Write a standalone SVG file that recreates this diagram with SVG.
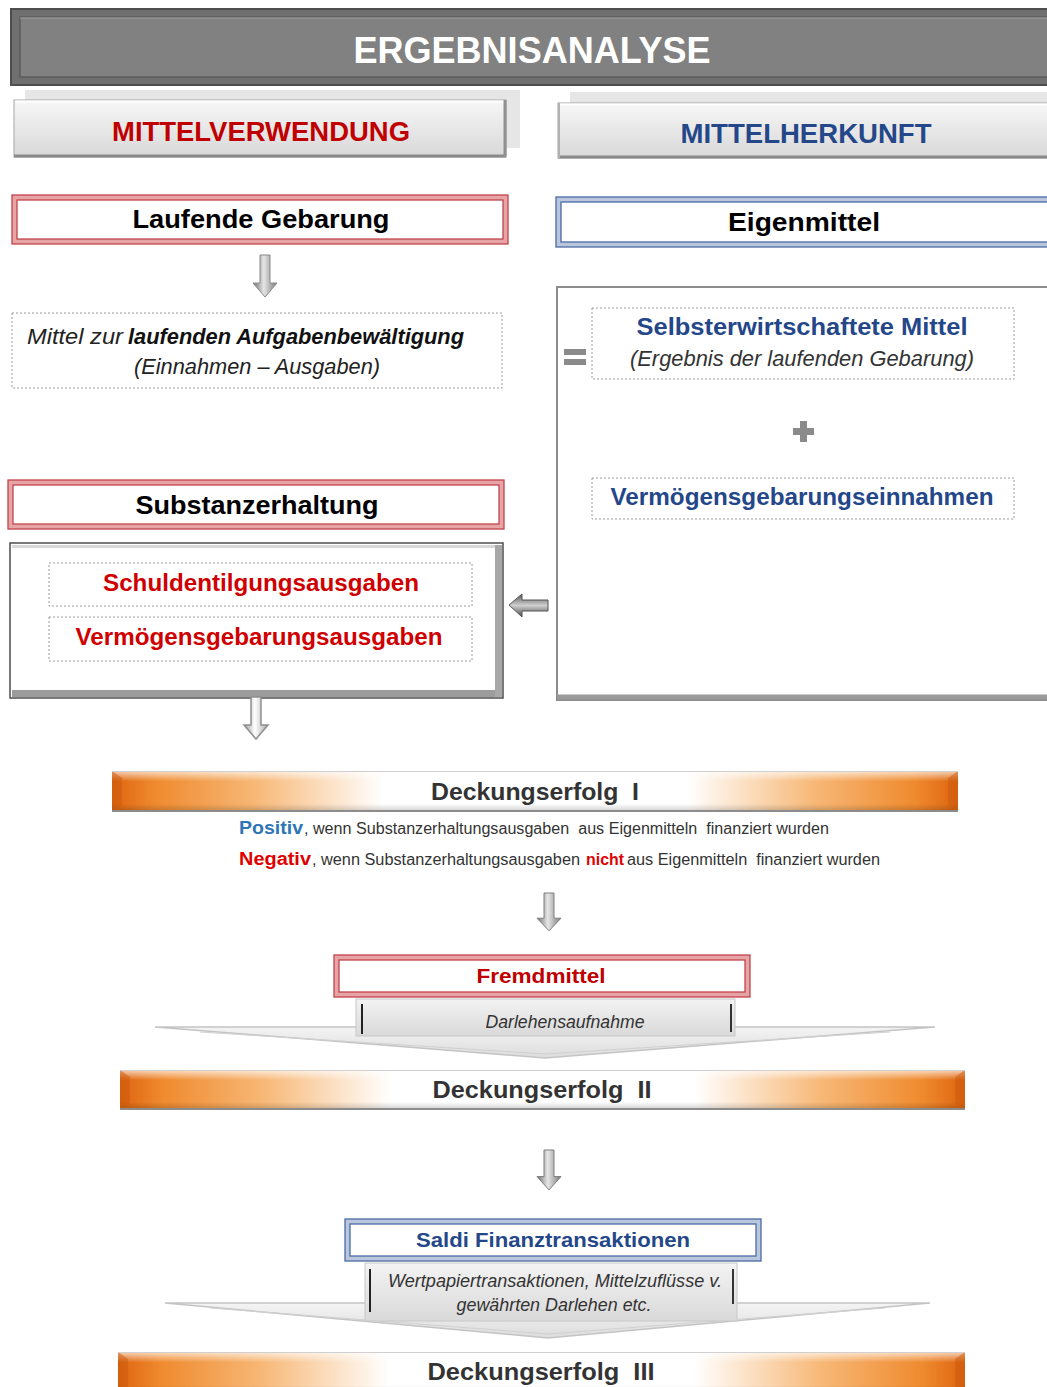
<svg xmlns="http://www.w3.org/2000/svg" xmlns:xlink="http://www.w3.org/1999/xlink" width="1047" height="1387" viewBox="0 0 1047 1387">
<style>
.b{font-family:"Liberation Sans",Arial,sans-serif;font-weight:bold}
.i{font-family:"Liberation Sans",Arial,sans-serif;font-style:italic}
.c{font-family:"Liberation Sans",Arial,sans-serif}
.pre{white-space:pre}
.dash{fill:#fff;stroke:#9a9a9a;stroke-width:1;stroke-dasharray:2 2}
.red{fill:#c00000}
.blue{fill:#24478a}
.dr1{fill:#fff;stroke:#e6a4a6;stroke-width:5}
.dr2{fill:none;stroke:#c0444a;stroke-width:1.3}
.db1{fill:#fff;stroke:#b9c6dc;stroke-width:5}
.db2{fill:none;stroke:#4a6aa5;stroke-width:1.3}
</style>
<defs>
<linearGradient id="hg" x1="0" y1="0" x2="0" y2="1"><stop offset="0" stop-color="#f7f7f7"/><stop offset="1" stop-color="#d8d8d8"/></linearGradient>
<linearGradient id="og" x1="0" y1="0" x2="1" y2="0">
<stop offset="0" stop-color="#de6410"/><stop offset="0.05" stop-color="#ef8a2e"/><stop offset="0.17" stop-color="#f7b877"/><stop offset="0.32" stop-color="#ffffff"/><stop offset="0.68" stop-color="#ffffff"/><stop offset="0.83" stop-color="#f7b877"/><stop offset="0.95" stop-color="#ef8a2e"/><stop offset="1" stop-color="#de6410"/></linearGradient>
<linearGradient id="ov" x1="0" y1="0" x2="0" y2="1"><stop offset="0" stop-color="#fff" stop-opacity="0.7"/><stop offset="0.25" stop-color="#fff" stop-opacity="0"/><stop offset="0.8" stop-color="#000" stop-opacity="0"/><stop offset="1" stop-color="#000" stop-opacity="0.2"/></linearGradient>
<linearGradient id="ag" x1="0" y1="0" x2="1" y2="0"><stop offset="0" stop-color="#6e6e6e"/><stop offset="0.45" stop-color="#e6e6e6"/><stop offset="1" stop-color="#7a7a7a"/></linearGradient>
<linearGradient id="agv" x1="0" y1="0" x2="0" y2="1"><stop offset="0" stop-color="#555"/><stop offset="0.5" stop-color="#cfcfcf"/><stop offset="1" stop-color="#4a4a4a"/></linearGradient>
<linearGradient id="al" x1="0" y1="0" x2="1" y2="0"><stop offset="0" stop-color="#9a9a9a"/><stop offset="0.45" stop-color="#ffffff"/><stop offset="1" stop-color="#a8a8a8"/></linearGradient>
<linearGradient id="tg" x1="0" y1="0" x2="0" y2="1"><stop offset="0" stop-color="#f3f3f3"/><stop offset="1" stop-color="#d9d9d9"/></linearGradient>
<linearGradient id="cg" x1="0" y1="0" x2="0" y2="1"><stop offset="0" stop-color="#f4f4f4"/><stop offset="1" stop-color="#dcdcdc"/></linearGradient>
<path id="dn" d="M-5,0 H5 V28 H12 L0,42 L-12,28 H-5 Z"/>
</defs>

<g id="title">
<rect x="11" y="9" width="1045" height="76" fill="#6f6f6f" stroke="#4d4d4d" stroke-width="2"/>
<rect x="20" y="17" width="1035" height="60" fill="#818181" stroke="#5c5c5c" stroke-width="1.5"/>
<line x1="20" y1="18" x2="1047" y2="18" stroke="#a0a0a0" stroke-width="1"/>
<text class="b" x="532" y="63" font-size="37" fill="#fff" text-anchor="middle" textLength="357" lengthAdjust="spacingAndGlyphs">ERGEBNISANALYSE</text>
</g>

<g id="mittelverwendung">
<rect x="25" y="90" width="495" height="58" fill="#e6e6e6"/>
<rect x="14" y="100" width="492" height="57" fill="url(#hg)" stroke="#a6a6a6" stroke-width="1"/>
<line x1="15" y1="101.5" x2="505" y2="101.5" stroke="#fff" stroke-width="2"/>
<line x1="14" y1="156" x2="506" y2="156" stroke="#8a8a8a" stroke-width="3"/>
<line x1="505" y1="100" x2="505" y2="157" stroke="#909090" stroke-width="3"/>
<text class="b red" x="261" y="141" font-size="27" text-anchor="middle" textLength="298" lengthAdjust="spacingAndGlyphs">MITTELVERWENDUNG</text>
</g>

<g id="mittelherkunft">
<rect x="570" y="92" width="490" height="56" fill="#e6e6e6"/>
<rect x="558" y="103" width="495" height="55" fill="url(#hg)" stroke="#a6a6a6" stroke-width="1"/>
<line x1="559" y1="104.5" x2="1047" y2="104.5" stroke="#fff" stroke-width="2"/>
<line x1="558" y1="157" x2="1047" y2="157" stroke="#8a8a8a" stroke-width="3"/>
<line x1="559" y1="103" x2="559" y2="158" stroke="#b0b0b0" stroke-width="2"/>
<text class="b blue" x="806" y="143" font-size="27" text-anchor="middle" textLength="251" lengthAdjust="spacingAndGlyphs">MITTELHERKUNFT</text>
</g>

<g id="laufende-gebarung">
<rect class="dr1" x="14.5" y="197.5" width="491" height="44"/>
<rect class="dr2" x="12" y="195" width="496" height="49"/>
<rect class="dr2" x="17" y="200" width="486" height="39"/>
<text class="b" x="261" y="228" font-size="25" fill="#000" text-anchor="middle" textLength="257" lengthAdjust="spacingAndGlyphs">Laufende Gebarung</text>
</g>

<g id="eigenmittel">
<rect class="db1" x="558.5" y="199.5" width="495" height="45"/>
<rect class="db2" x="556" y="197" width="500" height="50"/>
<rect class="db2" x="561" y="202" width="490" height="40"/>
<text class="b" x="804" y="231" font-size="26" fill="#000" text-anchor="middle" textLength="152" lengthAdjust="spacingAndGlyphs">Eigenmittel</text>
</g>

<g id="mittel-laufende">
<rect class="dash" x="12" y="313" width="490" height="75"/>
<text class="i" x="27" y="344" font-size="22" fill="#222" textLength="96" lengthAdjust="spacingAndGlyphs">Mittel zur</text>
<text class="i" x="128" y="344" font-size="22" font-weight="bold" fill="#111" textLength="336" lengthAdjust="spacingAndGlyphs">laufenden Aufgabenbewältigung</text>
<text class="i" x="134" y="374" font-size="22" fill="#222" textLength="246" lengthAdjust="spacingAndGlyphs">(Einnahmen – Ausgaben)</text>
</g>

<g id="eigenmittel-detail">
<rect x="557" y="287" width="500" height="413" fill="#fff" stroke="#8c8c8c" stroke-width="2"/>
<line x1="557" y1="697" x2="1047" y2="697" stroke="#9a9a9a" stroke-width="5"/>
<g id="gleich">
<rect x="564" y="349" width="22" height="6" fill="#8a8a8a"/>
<rect x="564" y="359" width="22" height="6" fill="#8a8a8a"/>
</g>
<g id="selbsterwirtschaftete-mittel">
<rect class="dash" x="592" y="308" width="422" height="71"/>
<text class="b blue" x="802" y="335" font-size="23" text-anchor="middle" textLength="331" lengthAdjust="spacingAndGlyphs">Selbsterwirtschaftete Mittel</text>
<text class="i" x="802" y="366" font-size="22" fill="#333" text-anchor="middle" textLength="344" lengthAdjust="spacingAndGlyphs">(Ergebnis der laufenden Gebarung)</text>
</g>
<g id="plus">
<rect x="793" y="428" width="21" height="7" fill="#8a8a8a"/>
<rect x="800" y="421" width="7" height="21" fill="#8a8a8a"/>
</g>
<g id="vermoegensgebarungseinnahmen">
<rect class="dash" x="592" y="478" width="422" height="41"/>
<text class="b blue" x="802" y="505" font-size="23" text-anchor="middle" textLength="383" lengthAdjust="spacingAndGlyphs">Vermögensgebarungseinnahmen</text>
</g>
</g>

<g id="substanzerhaltung">
<rect class="dr1" x="10.5" y="482.5" width="491" height="44"/>
<rect class="dr2" x="8" y="480" width="496" height="49"/>
<rect class="dr2" x="13" y="485" width="486" height="39"/>
<text class="b" x="257" y="514" font-size="25" fill="#000" text-anchor="middle" textLength="243" lengthAdjust="spacingAndGlyphs">Substanzerhaltung</text>
</g>

<g id="substanz-detail">
<rect x="10" y="543" width="493" height="155" fill="#fff" stroke="#4d4d4d" stroke-width="1.5"/>
<rect x="12" y="545" width="489" height="3" fill="#d8d8d8"/>
<rect x="12" y="690" width="490" height="7" fill="#9c9c9c"/>
<rect x="495" y="545" width="7" height="152" fill="#a8a8a8"/>
<g id="schuldentilgungsausgaben">
<rect class="dash" x="49" y="563" width="423" height="43"/>
<text class="b" x="261" y="591" font-size="23" text-anchor="middle" textLength="316" lengthAdjust="spacingAndGlyphs" fill="#d00000">Schuldentilgungsausgaben</text>
</g>
<g id="vermoegensgebarungsausgaben">
<rect class="dash" x="49" y="617" width="423" height="44"/>
<text class="b" x="259" y="645" font-size="23" text-anchor="middle" textLength="367" lengthAdjust="spacingAndGlyphs" fill="#d00000">Vermögensgebarungsausgaben</text>
</g>
</g>

<g id="connectors">
<use href="#dn" transform="translate(265,255)" fill="url(#ag)" stroke="#8a8a8a" stroke-width="1"/>
<path d="M509,605 L522,594 V600 H548 V611 H522 V617 Z" fill="url(#agv)" stroke="#555" stroke-width="1"/>
<use href="#dn" transform="translate(256,697)" fill="url(#al)" stroke="#8f8f8f" stroke-width="1.5"/>
<use href="#dn" transform="translate(549,893) scale(1,0.9)" fill="url(#ag)" stroke="#7a7a7a" stroke-width="1"/>
<use href="#dn" transform="translate(549,1150) scale(1,0.95)" fill="url(#ag)" stroke="#7a7a7a" stroke-width="1"/>
</g>

<g id="deckungserfolg-1">
<rect x="112" y="771" width="846" height="41" fill="url(#og)"/>
<rect x="112" y="771" width="846" height="41" fill="url(#ov)"/>
<polygon points="112,771 122,778 122,805 112,812" fill="#c95a0c" opacity="0.5"/>
<polygon points="958,771 948,778 948,805 958,812" fill="#c95a0c" opacity="0.5"/>
<line x1="112" y1="771.5" x2="958" y2="771.5" stroke="#d0d0d0"/>
<line x1="112" y1="811" x2="958" y2="811" stroke="#8c8c8c" stroke-width="2"/>
<text class="b pre" x="535" y="800" font-size="24" fill="#333" text-anchor="middle" textLength="208" lengthAdjust="spacingAndGlyphs">Deckungserfolg  I</text>
</g>

<g id="erlaeuterung">
<text class="b" x="239" y="834" font-size="18" fill="#2e75b6" textLength="64" lengthAdjust="spacingAndGlyphs">Positiv</text>
<text class="c pre" x="304" y="834" font-size="16" fill="#333" textLength="525" lengthAdjust="spacingAndGlyphs">, wenn Substanzerhaltungsausgaben  aus Eigenmitteln  finanziert wurden</text>
<text class="b" x="239" y="865" font-size="18" fill="#e00000" textLength="72" lengthAdjust="spacingAndGlyphs">Negativ</text>
<text class="c" x="312" y="865" font-size="16" fill="#333" textLength="268" lengthAdjust="spacingAndGlyphs">, wenn Substanzerhaltungsausgaben</text>
<text class="b" x="586" y="865" font-size="16" fill="#e00000" textLength="38" lengthAdjust="spacingAndGlyphs">nicht</text>
<text class="c pre" x="627" y="865" font-size="16" fill="#333" textLength="253" lengthAdjust="spacingAndGlyphs">aus Eigenmitteln  finanziert wurden</text>
</g>

<g id="fremdmittel">
<polygon points="155,1027 935,1027 545,1058" fill="url(#cg)" stroke="#c4c4c4" stroke-width="1.5"/>
<polyline points="200,1032 545,1054 890,1032" fill="none" stroke="#d0d0d0" stroke-width="1"/>
<rect x="356" y="999" width="379" height="37" fill="url(#tg)" stroke="#c8c8c8"/>
<line x1="362" y1="1004" x2="362" y2="1034" stroke="#222" stroke-width="2"/>
<line x1="731" y1="1004" x2="731" y2="1032" stroke="#333" stroke-width="2"/>
<text class="i" x="565" y="1028" font-size="18" fill="#333" text-anchor="middle" textLength="159" lengthAdjust="spacingAndGlyphs">Darlehensaufnahme</text>
<rect class="dr1" x="336.5" y="957.5" width="411" height="37"/>
<rect class="dr2" x="334" y="955" width="416" height="42"/>
<rect class="dr2" x="339" y="960" width="406" height="32"/>
<text class="b red" x="541" y="983" font-size="21" text-anchor="middle" textLength="129" lengthAdjust="spacingAndGlyphs">Fremdmittel</text>
</g>

<g id="deckungserfolg-2">
<rect x="120" y="1070" width="845" height="40" fill="url(#og)"/>
<rect x="120" y="1070" width="845" height="40" fill="url(#ov)"/>
<polygon points="120,1070 130,1077 130,1103 120,1110" fill="#c95a0c" opacity="0.5"/>
<polygon points="965,1070 955,1077 955,1103 965,1110" fill="#c95a0c" opacity="0.5"/>
<line x1="120" y1="1070.5" x2="965" y2="1070.5" stroke="#d0d0d0"/>
<line x1="120" y1="1109" x2="965" y2="1109" stroke="#8c8c8c" stroke-width="2"/>
<text class="b pre" x="542" y="1098" font-size="24" fill="#333" text-anchor="middle" textLength="219" lengthAdjust="spacingAndGlyphs">Deckungserfolg  II</text>
</g>

<g id="saldi-finanztransaktionen">
<polygon points="165,1303 930,1303 548,1338" fill="url(#cg)" stroke="#c4c4c4" stroke-width="1.5"/>
<polyline points="210,1308 548,1334 885,1308" fill="none" stroke="#d0d0d0" stroke-width="1"/>
<rect x="365" y="1263" width="372" height="58" fill="url(#tg)" stroke="#c8c8c8"/>
<line x1="370" y1="1269" x2="370" y2="1312" stroke="#222" stroke-width="2"/>
<line x1="733" y1="1269" x2="733" y2="1304" stroke="#333" stroke-width="2"/>
<text class="i" x="555" y="1287" font-size="18" fill="#333" text-anchor="middle" textLength="334" lengthAdjust="spacingAndGlyphs">Wertpapiertransaktionen, Mittelzuflüsse v.</text>
<text class="i" x="554" y="1311" font-size="18" fill="#333" text-anchor="middle" textLength="195" lengthAdjust="spacingAndGlyphs">gewährten Darlehen etc.</text>
<rect class="db1" x="347.5" y="1221.5" width="411" height="37"/>
<rect class="db2" x="345" y="1219" width="416" height="42"/>
<rect class="db2" x="350" y="1224" width="406" height="32"/>
<text class="b blue" x="553" y="1247" font-size="21" text-anchor="middle" textLength="274" lengthAdjust="spacingAndGlyphs">Saldi Finanztransaktionen</text>
</g>

<g id="deckungserfolg-3">
<rect x="118" y="1352" width="847" height="42" fill="url(#og)"/>
<rect x="118" y="1352" width="847" height="42" fill="url(#ov)"/>
<polygon points="118,1352 128,1359 128,1390 118,1394" fill="#c95a0c" opacity="0.5"/>
<polygon points="965,1352 955,1359 955,1390 965,1394" fill="#c95a0c" opacity="0.5"/>
<line x1="118" y1="1352.5" x2="965" y2="1352.5" stroke="#d0d0d0"/>
<text class="b pre" x="541" y="1380" font-size="24" fill="#333" text-anchor="middle" textLength="227" lengthAdjust="spacingAndGlyphs">Deckungserfolg  III</text>
</g>
</svg>
